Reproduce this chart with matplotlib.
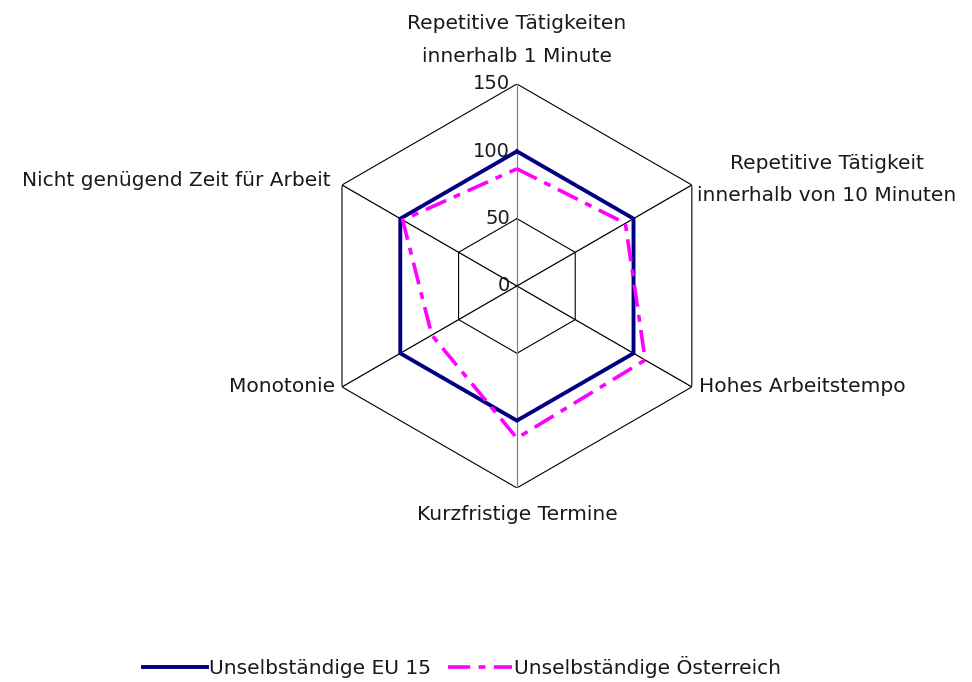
import numpy as np
import matplotlib
matplotlib.use("Agg")
import matplotlib.pyplot as plt
from matplotlib.lines import Line2D

categories = ["Repetitive Tätigkeiten\ninnerhalb 1 Minute",
              "Repetitive Tätigkeit\ninnerhalb von 10 Minuten",
              "Hohes Arbeitstempo",
              "Kurzfristige Termine",
              "Monotonie",
              "Nicht genügend Zeit für Arbeit"]
eu15 = [100, 100, 100, 100, 100, 100]
austria = [87, 93, 110, 113, 73, 98]
rings = [50, 100, 150]
tick_labels = ["0", "50", "100", "150"]
tick_values = [0, 50, 100, 150]

plt.rcParams['font.family'] = ['DejaVu Sans']
plt.rcParams['lines.scale_dashes'] = False

fig = plt.figure(figsize=(9.72, 6.82), dpi=100)
ax = fig.add_axes([0.324, 0.2845, 0.4156, 0.5924], projection='polar')
ax.set_theta_zero_location('N')
ax.set_theta_direction(-1)
ax.set_ylim(0, 150)
ax.axis('off')

n = len(categories)
angles = np.linspace(0, 2 * np.pi, n, endpoint=False)
ang_closed = np.concatenate([angles, angles[:1]])

# hexagonal grid
for r in rings:
    ax.plot(ang_closed, [r] * (n + 1), color='black', lw=0.8, zorder=1)
for i, a in enumerate(angles):
    col = '#808080' if i in (0, 3) else 'black'
    ax.plot([a, a], [0, 150], color=col, lw=0.9, zorder=1)

# data
ax.plot(ang_closed, eu15 + eu15[:1], color='#000080', lw=2.8, zorder=3,
        solid_joinstyle='miter')
ax.plot(ang_closed, austria + austria[:1], color='#FF00FF', lw=2.6, zorder=4,
        dashes=(16, 6, 5, 6))

txtc = '#1a1a1a'
# radial tick labels
for v, t in zip(tick_values, tick_labels):
    ax.annotate(t, xy=(0, v), xytext=(-5, 0), textcoords='offset points',
                ha='right', va='center', fontsize=14, color=txtc)

# category labels
fs = 14.5
ax.annotate(categories[0], xy=(angles[0], 150), xytext=(0, 13), textcoords='offset points',
            ha='center', va='bottom', fontsize=fs, color=txtc, linespacing=1.95)
ax.annotate(categories[1], xy=(angles[1], 150), xytext=(4, 4), textcoords='offset points',
            ha='left', va='center', fontsize=fs, color=txtc, linespacing=1.85,
            multialignment='center')
ax.annotate(categories[2], xy=(angles[2], 150), xytext=(5, 0), textcoords='offset points',
            ha='left', va='center', fontsize=fs, color=txtc)
ax.annotate(categories[3], xy=(angles[3], 150), xytext=(0, -12), textcoords='offset points',
            ha='center', va='top', fontsize=fs, color=txtc)
ax.annotate(categories[4], xy=(angles[4], 150), xytext=(-5, 0), textcoords='offset points',
            ha='right', va='center', fontsize=fs, color=txtc)
ax.annotate(categories[5], xy=(angles[5], 150), xytext=(-8, 3), textcoords='offset points',
            ha='right', va='center', fontsize=fs, color=txtc)

handles = [Line2D([0], [0], color='#000080', lw=2.8),
           Line2D([0], [0], color='#FF00FF', lw=2.6, dashes=(16, 6, 5, 6))]
fig.legend(handles, ["Unselbständige EU 15", "Unselbständige Österreich"],
           loc='center', bbox_to_anchor=(462 / 972, 1 - 667 / 682), ncol=2,
           frameon=False, fontsize=14.5, handlelength=3.2, handletextpad=0.1,
           columnspacing=0.8, labelcolor=txtc)

fig.savefig('out.png', dpi=100)
